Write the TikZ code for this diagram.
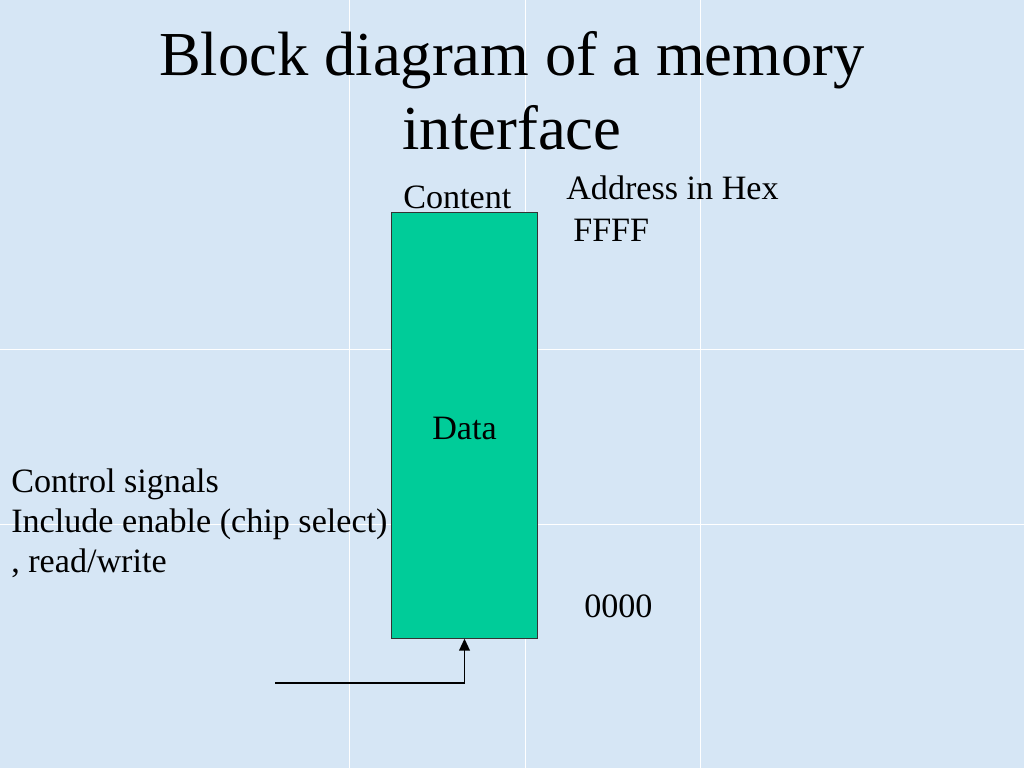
\documentclass[tikz,border=0pt]{standalone}
\usepackage{fontspec}
\setmainfont{Liberation Serif}
\usepackage{xcolor}
\usepackage{tikz}
\usetikzlibrary{positioning, arrows.meta}
\definecolor{slidebg}{RGB}{214,230,245}
\definecolor{memgreen}{RGB}{0,204,153}
\tikzstyle{slidetext}=[inner sep=0pt, font=\fontsize{24}{28.1}\selectfont]
\tikzstyle{titletext}=[inner sep=0pt, align=center, font=\fontsize{44}{52.7}\selectfont]
\tikzstyle{membox}=[draw=black!80, fill=memgreen, line width=0.7pt, minimum width=102pt,
minimum height=299pt, inner sep=0pt, font=\fontsize{24}{28.1}\selectfont]
\tikzstyle{sigline}=[-{Triangle[length=8.5pt,width=7.5pt]}, line width=1.3pt]

\begin{document}
\begin{tikzpicture}[x=0.703125pt, y=-0.703125pt]
\fill[slidebg] (0,0) rectangle (1024,768);
\useasboundingbox (0,0) rectangle (1024,768);
\foreach \gx in {349,525,700} \draw[white, line width=0.6pt] (\gx,0) -- (\gx,768);
\foreach \gy in {349,524} \draw[white, line width=0.6pt] (0,\gy) -- (1024,\gy);

\node[titletext, anchor=base] (title) at (512,150) {Block diagram of a memory\\interface};
\node[membox] (mem) at (464.5,425.5) {\raisebox{-10pt}[0pt][0pt]{Data}};
\node[slidetext, anchor=base west] (content) at (403,209) {Content};
\node[slidetext, anchor=base west] (addr) at (566,200) {Address in Hex};
\node[slidetext, anchor=base west] (top) at (573,242) {FFFF};
\node[slidetext, anchor=base west] (bottom) at (584,617) {0000};
\node[slidetext, anchor=base west, align=left] (ctrl) at (11,572)
  {Control signals\\Include enable (chip select)\\, read/write};

\coordinate (ctlin) at (275,683);
\draw[sigline] (ctlin) -| (mem.south);
\end{tikzpicture}
\end{document}
